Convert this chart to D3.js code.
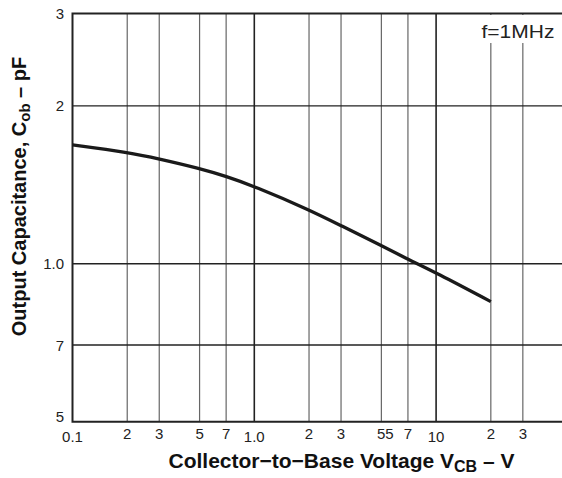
<!DOCTYPE html>
<html>
<head>
<meta charset="utf-8">
<script src="https://cdn.jsdelivr.net/npm/d3@7"></script>
<style>
  body { margin: 0; background: #fff; }
  svg { display: block; font-family: "Liberation Sans", Arial, sans-serif; }
</style>
</head>
<body>
<svg id="chart" width="562" height="478"></svg>
<script>
// curve
const vcb = [0.1, 0.2, 0.3, 0.5, 0.7, 1, 2, 3, 5, 7, 10, 20];
const cob = [1.685, 1.632, 1.585, 1.52, 1.468, 1.405, 1.268, 1.182, 1.083, 1.02, 0.962, 0.847];

const xTicks = [0.1, 0.2, 0.3, 0.5, 0.7, 1, 2, 3, 5, 7, 10, 20, 30];
const xLabels = ["0.1", "2", "3", "5", "7", "1.0", "2", "3", "55", "7", "10", "2", "3"];
const xMajor = [0.1, 1, 10];

const yTicks = [0.5, 0.7, 1, 2, 3];
const yLabels = ["5", "7", "1.0", "2", "3"];

function draw() {
    const svg = d3.select('#chart');
    const margin = {top: 13.5, left: 72.5, bottom: 421.7};

    // x runs past the right edge of the picture (frame is cut off there)
    const x = d3.scaleLog()
        .domain([0.1, 50])
        .range([margin.left, margin.left + 181.8 * Math.log10(500)]);

    const y = d3.scaleLog()
        .domain([0.5, 3])
        .range([margin.bottom, margin.top]);

    const right = 562;

    // vertical grid
    svg.append('g')
        .selectAll('line')
        .data(xTicks.slice(1))
        .enter().append('line')
        .attr('x1', d => x(d)).attr('x2', d => x(d))
        .attr('y1', margin.top).attr('y2', margin.bottom)
        .attr('stroke', d => xMajor.includes(d) ? '#222' : '#666')
        .attr('stroke-width', d => xMajor.includes(d) ? 1.6 : 1.2);

    // horizontal grid
    svg.append('g')
        .selectAll('line')
        .data(yTicks.slice(1, -1))
        .enter().append('line')
        .attr('x1', margin.left).attr('x2', right)
        .attr('y1', d => y(d)).attr('y2', d => y(d))
        .attr('stroke', '#222')
        .attr('stroke-width', 1.4);

    // legend box for f=1MHz (hides grid under it)
    svg.append('rect')
        .attr('x', 472).attr('y', margin.top + 1.5)
        .attr('width', right - 472).attr('height', 28)
        .attr('fill', '#fff');

    svg.append('text')
        .attr('transform', `translate(481.5,38) scale(1.2,1)`)
        .attr('font-size', 17.5)
        .attr('fill', '#222')
        .text('f=1MHz');

    // frame: left, top, bottom
    svg.append('path')
        .attr('d', `M${right},${margin.top}H${margin.left}V${margin.bottom}H${right}`)
        .attr('fill', 'none')
        .attr('stroke', '#222')
        .attr('stroke-width', 2);

    // curve
    const pts = vcb.map((v, i) => [v, cob[i]]);
    svg.append('path')
        .datum(pts)
        .attr('fill', 'none')
        .attr('stroke', '#1a1a1a')
        .attr('stroke-width', 3.3)
        .attr('d', d3.line()
            .x(d => x(d[0]))
            .y(d => y(d[1]))
            .curve(d3.curveBasis));

    // y tick labels
    svg.append('g')
        .selectAll('text')
        .data(yTicks)
        .enter().append('text')
        .attr('x', 64)
        .attr('y', d => Math.min(y(d) + 5.5, margin.bottom))
        .attr('text-anchor', 'end')
        .attr('font-size', 15)
        .attr('fill', '#222')
        .text((d, i) => yLabels[i]);

    // x tick labels (decade labels sit a bit lower)
    svg.append('g')
        .selectAll('text')
        .data(xTicks)
        .enter().append('text')
        .attr('x', (d, i) => x(d) + (xLabels[i] === '55' ? 4 : 0))
        .attr('y', d => xMajor.includes(d) ? 442 : 439)
        .attr('text-anchor', 'middle')
        .attr('font-size', 15)
        .attr('fill', '#222')
        .text((d, i) => xLabels[i]);

    // axis titles
    const xt = svg.append('text')
        .attr('x', 341.5).attr('y', 468)
        .attr('text-anchor', 'middle')
        .attr('font-size', 21)
        .attr('font-weight', 'bold')
        .attr('fill', '#111');
    xt.append('tspan').text('Collector\u2212to\u2212Base Voltage V');
    xt.append('tspan').attr('font-size', 16).attr('dy', 4).text('CB');
    xt.append('tspan').attr('dy', -4).text(' \u2013 V');

    const yt = svg.append('text')
        .attr('transform', 'translate(26,196.5) rotate(-90)')
        .attr('text-anchor', 'middle')
        .attr('font-size', 20)
        .attr('font-weight', 'bold')
        .attr('fill', '#111');
    yt.append('tspan').text('Output Capacitance, C');
    yt.append('tspan').attr('font-size', 15).attr('dy', 4).text('ob');
    yt.append('tspan').attr('dy', -4).text(' \u2013 pF');
}

draw();
</script>
</body>
</html>
